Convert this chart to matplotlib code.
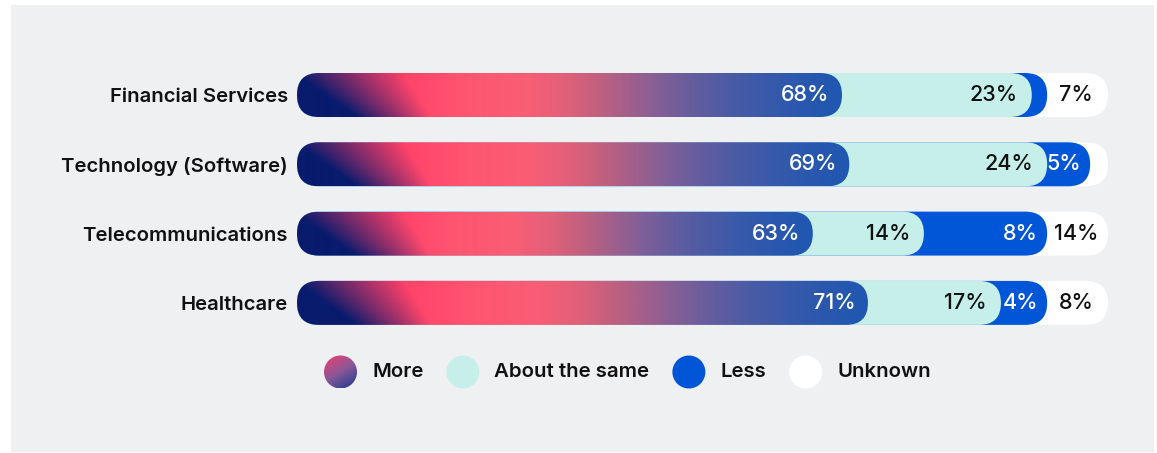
import numpy as np
import matplotlib
matplotlib.use("Agg")
import matplotlib.pyplot as plt
from matplotlib.patches import FancyBboxPatch, Rectangle, Circle
from matplotlib.colors import to_rgb

# ---------------- data ----------------
categories = ["Financial Services", "Technology (Software)", "Telecommunications", "Healthcare"]
# segment lengths as drawn in the picture (share of bar, %)
more = [67.2, 68.1, 63.6, 70.4]
about = [23.4, 24.4, 13.7, 16.4]
less = [1.9, 5.3, 15.2, 5.7]
unknown = [7.5, 2.2, 7.5, 7.5]
# printed value labels
more_labels = ["68%", "69%", "63%", "71%"]
about_labels = ["23%", "24%", "14%", "17%"]
less_labels = ["", "5%", "8%", "4%"]
unknown_labels = ["7%", "", "14%", "8%"]
legend_labels = ["More", "About the same", "Less", "Unknown"]

# ---------------- style ----------------
plt.rcParams['font.family'] = ['Inter', 'DejaVu Sans']
W, H = 1157, 453
BG = "#eff0f2"
NAVY = np.array(to_rgb("#081b6d"))
ABOUT_C = "#c6efea"
LESS_C = "#0156d8"
UNK_C = "#ffffff"
TXT = "#111111"
grad_stops = [
    (0.00, "#ff3a68"), (0.18, "#ff4068"), (0.30, "#ff5470"), (0.42, "#f95e75"),
    (0.49, "#e26079"), (0.55, "#c2607f"), (0.61, "#a1608c"), (0.67, "#7f5f98"),
    (0.73, "#635d9f"), (0.79, "#4c5ba5"), (0.85, "#3b5aaa"), (0.92, "#2b58ae"),
    (1.00, "#1f57b1"),
]
gpos = np.array([s[0] for s in grad_stops])
gcol = np.array([to_rgb(s[1]) for s in grad_stops])

fig = plt.figure(figsize=(W / 100, H / 100), dpi=100, facecolor="white")
fig.patches.append(Rectangle((11 / W, 1 - 452 / H), (1154 - 11) / W, (452 - 5) / H,
                             transform=fig.transFigure, facecolor=BG, edgecolor="none", zorder=-1))

top_px, row_px = 60.35, 69.3
ax = fig.add_axes([297 / W, 1 - (top_px + 4 * row_px) / H, 811 / W, 4 * row_px / H])
ax.set_xlim(0, 100)
ax.set_ylim(3.5, -0.5)
ax.patch.set_visible(False)
for s in ax.spines.values():
    s.set_visible(False)
ax.set_xticks([])
ax.set_yticks(range(len(categories)))
ax.set_yticklabels(categories, fontsize=14.6, fontweight="semibold", color=TXT)
ax.tick_params(axis="y", length=0, pad=6.5)

px = 811 / 100.0        # pixels per x unit
py = row_px             # pixels per y unit
bar_px = 44.0
bar_h = bar_px / py
r = (bar_px / 2) / px
asp = px / py


def pill(x1, y, color, z):
    p = FancyBboxPatch((0, y - bar_h / 2), x1, bar_h,
                       boxstyle=f"round,pad=0,rounding_size={r}",
                       mutation_aspect=asp, facecolor=color, edgecolor="none", zorder=z)
    ax.add_patch(p)
    return p


def gradient_pill(x1, y, z):
    clip = pill(x1, y, "none", z)
    wpx = x1 * px
    n_w, n_h = int(wpx * 2), int(bar_px * 2)
    xs = (np.arange(n_w) + 0.5) / 2
    ys = (np.arange(n_h) + 0.5) / 2
    X, Y = np.meshgrid(xs, ys)
    f = X / wpx
    base = np.stack([np.interp(f, gpos, gcol[:, k]) for k in range(3)], axis=-1)
    yr = Y / bar_px
    c = 52 + 45 * yr
    w = 110 - 35 * yr
    t = np.clip((X - (c - w / 2)) / w, 0, 1)
    a = (1 - t)[..., None]
    img = base * (1 - a) + NAVY * a
    im = ax.imshow(img, extent=(0, x1, y + bar_h / 2, y - bar_h / 2), origin="upper",
                   aspect="auto", zorder=z, interpolation="bilinear")
    im.set_clip_path(clip)


pad_more = 12.5 / px
pad_about = 14 / px
pad_less = 9 / px
val_fs = 15.5
for i in range(len(categories)):
    c1 = more[i]
    c2 = c1 + about[i]
    c3 = c2 + less[i]
    c4 = c3 + unknown[i]
    pill(c4, i, UNK_C, 1)
    pill(c3, i, LESS_C, 2)
    pill(c2, i, ABOUT_C, 3)
    gradient_pill(c1, i, 4)
    if more_labels[i]:
        ax.text(c1 - pad_more, i, more_labels[i], ha="right", va="center", fontsize=val_fs,
                fontweight="medium", color="white", zorder=6)
    if about_labels[i]:
        ax.text(c2 - pad_about, i, about_labels[i], ha="right", va="center", fontsize=val_fs,
                fontweight="medium", color=TXT, zorder=6)
    if less_labels[i]:
        ax.text(c3 - pad_less, i, less_labels[i], ha="right", va="center", fontsize=val_fs,
                fontweight="medium", color="white", zorder=6)
    if unknown_labels[i]:
        ax.text((c3 + c4) / 2 - 1.5 / px, i, unknown_labels[i], ha="center", va="center",
                fontsize=val_fs, fontweight="medium", color=TXT, zorder=6)

ax.set_xlim(0, 100)
ax.set_ylim(3.5, -0.5)

# ---------------- legend ----------------
lax = fig.add_axes([0, 0, 1, 1])
lax.set_xlim(0, W)
lax.set_ylim(H, 0)
lax.axis("off")
lax.patch.set_visible(False)
renderer = fig.canvas.get_renderer()
leg_colors = [None, ABOUT_C, LESS_C, UNK_C]
x = 324.0
yc = 372.0
rad = 16.5
for lab, col in zip(legend_labels, leg_colors):
    cx = x + rad
    if col is None:
        circ = Circle((cx, yc), rad, facecolor="none", edgecolor="none")
        lax.add_patch(circ)
        n = 80
        u = np.linspace(0, 1, n)
        U, V = np.meshgrid(u, u)
        tt = (U * 0.6 + V * 1.0) / 1.6
        stops_p = [0.0, 0.5, 1.0]
        stops_c = np.array([to_rgb("#f43d6b"), to_rgb("#8a5898"), to_rgb("#1b3a8e")])
        img = np.stack([np.interp(tt, stops_p, stops_c[:, k]) for k in range(3)], axis=-1)
        im = lax.imshow(img, extent=(cx - rad, cx + rad, yc + rad, yc - rad), origin="upper",
                        aspect="auto", interpolation="bilinear")
        im.set_clip_path(circ)
    else:
        lax.add_patch(Circle((cx, yc), rad, facecolor=col, edgecolor="none"))
    tx = x + 2 * rad + 15
    t = lax.text(tx, yc, lab, ha="left", va="center", fontsize=14.7,
                 fontweight="semibold", color=TXT)
    wbb = t.get_window_extent(renderer).width
    x = tx + wbb + 23
lax.set_xlim(0, W)
lax.set_ylim(H, 0)

fig.savefig("out.png", dpi=100, facecolor="white")
